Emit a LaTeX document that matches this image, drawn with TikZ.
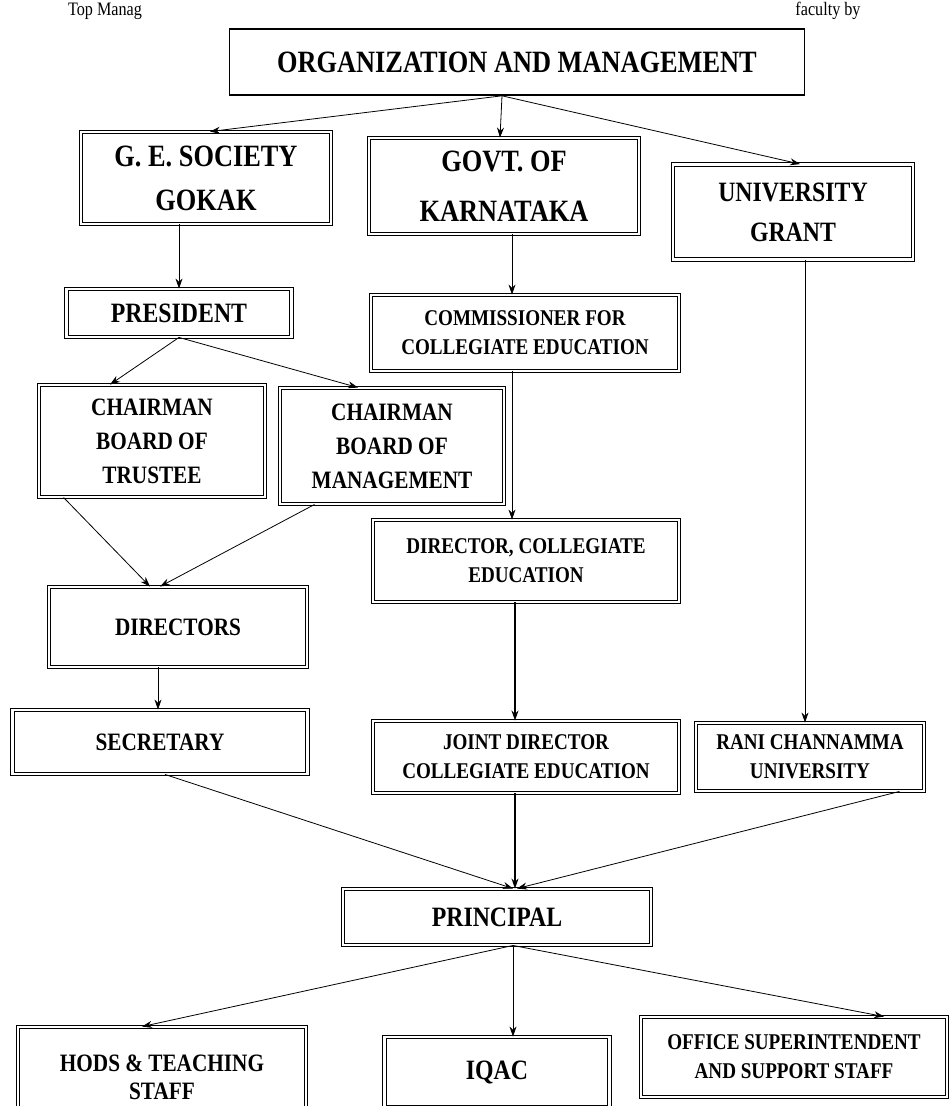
\documentclass[tikz,border=0pt]{standalone}
\usepackage{fontspec}
\setmainfont{Liberation Serif}[FakeStretch=0.85]
\usepackage{tikz}
\usetikzlibrary{arrows.meta}

\begin{document}
\begin{tikzpicture}[x=1pt, y=-1pt,
    unit/.style={draw, double, double distance=2.4pt, line width=0.9pt,
        align=center, inner sep=2pt, font=\bfseries},
    fsA/.style={font=\fontsize{31}{44}\bfseries\selectfont},
    fsB/.style={font=\fontsize{28}{40}\bfseries\selectfont},
    fsC/.style={font=\fontsize{25}{34}\bfseries\selectfont},
    fsD/.style={font=\fontsize{22.5}{29}\bfseries\selectfont},
    link/.style={line width=0.8pt, -{Stealth[length=10pt, width=7pt]}}]
    \useasboundingbox (0,0) rectangle (951,1106);

    % bits of the scanned page above the chart
    \node[font=\fontsize{19}{21}\selectfont] (topl) at (105,11) {Top Manag};
    \node[font=\fontsize{19}{21}\selectfont] (topr) at (828,11) {faculty by};

    % head of the chart
    \node[draw, line width=1.6pt, minimum width=575, minimum height=66, fsA] (org) at (517,62) {ORGANIZATION AND MANAGEMENT};

    % the three bodies
    \node[unit, fsA, minimum width=250, minimum height=92] (ges) at (206,178) {G. E. SOCIETY\\GOKAK};
    \node[unit, fsA, minimum width=270, minimum height=96, font=\fontsize{31}{50}\bfseries\selectfont] (govt) at (504,186) {GOVT. OF\\KARNATAKA};
    \node[unit, fsB, minimum width=240, minimum height=95] (ugc) at (793,212) {UNIVERSITY\\GRANT};

    % society side
    \node[unit, fsB, minimum width=225, minimum height=48] (pres) at (179,313) {PRESIDENT};
    \node[unit, fsC, minimum width=226, minimum height=112] (cbt) at (152,441) {CHAIRMAN\\BOARD OF\\TRUSTEE};
    \node[unit, fsC, minimum width=224, minimum height=116] (cbm) at (392,446) {CHAIRMAN\\BOARD OF\\MANAGEMENT};
    \node[unit, fsC, minimum width=258, minimum height=80] (dirs) at (178,627) {DIRECTORS};
    \node[unit, fsC, minimum width=295, minimum height=64] (secy) at (160,742) {SECRETARY};

    % government side
    \node[unit, fsD, minimum width=308, minimum height=76] (comm) at (525,333) {COMMISSIONER FOR\\COLLEGIATE EDUCATION};
    \node[unit, fsD, minimum width=306, minimum height=82] (dirce) at (526,561) {DIRECTOR, COLLEGIATE\\EDUCATION};
    \node[unit, fsD, minimum width=306, minimum height=72] (jdce) at (526,757) {JOINT DIRECTOR\\COLLEGIATE EDUCATION};

    % university side
    \node[unit, fsD, minimum width=228, minimum height=68] (rcu) at (810,757) {RANI CHANNAMMA\\UNIVERSITY};

    % college level
    \node[unit, fsB, minimum width=308, minimum height=56] (prin) at (497,917) {PRINCIPAL};
    \node[unit, fsC, minimum width=288, minimum height=100, font=\fontsize{25}{28}\bfseries\selectfont] (hods) at (162,1077) {HODS \& TEACHING\\STAFF};
    \node[unit, fsB, minimum width=225, minimum height=70] (iqac) at (497,1072) {IQAC};
    \node[unit, fsD, minimum width=306, minimum height=80] (osup) at (794,1057) {OFFICE SUPERINTENDENT\\AND SUPPORT STAFF};

    % head to bodies
    \draw[link] ([xshift=-15pt]org.south) -- ([xshift=4pt]ges.north);
    \draw[link] ([xshift=-15pt]org.south) -- ([xshift=-4pt]govt.north);
    \draw[link] ([xshift=-15pt]org.south) -- ([xshift=7pt]ugc.north);

    % society chain
    \draw[link] (pres.north |- ges.south) -- (pres.north);
    \draw[link] (pres.south) -- ([xshift=-42pt]cbt.north);
    \draw[link] (pres.south) -- ([xshift=-34pt]cbm.north);
    \draw[link] ([xshift=25pt]cbt.south west) -- ([xshift=-28pt]dirs.north);
    \draw[link] ([xshift=35pt]cbm.south west) -- ([xshift=-18pt]dirs.north);
    \draw[link] ([xshift=-20pt]dirs.south) -- ([xshift=-20pt]dirs.south |- secy.north);

    % government chain
    \draw[link] ([xshift=8pt]govt.south) -- ([xshift=8pt]govt.south |- comm.north);
    \draw[link] ([xshift=-13pt]comm.south) -- ([xshift=-13pt]comm.south |- dirce.north);
    \draw[link, line width=1.5pt] ([xshift=-11pt]dirce.south) -- ([xshift=-11pt]dirce.south |- jdce.north);

    % university chain
    \draw[link] ([xshift=12pt]ugc.south) -- ([xshift=12pt]ugc.south |- rcu.north);

    % all three into the principal
    \draw[link] ([xshift=5pt]secy.south) -- ([xshift=16pt]prin.north);
    \draw[link, line width=1.2pt] ([xshift=-11pt]jdce.south) -- ([xshift=-11pt]jdce.south |- prin.north);
    \draw[link] ([xshift=-25pt]rcu.south east) -- ([xshift=20pt]prin.north);

    % principal to staff
    \draw[link] ([xshift=16pt]prin.south) -- ([xshift=-20pt]hods.north);
    \draw[link] ([xshift=16pt]prin.south) -- ([xshift=16pt]prin.south |- iqac.north);
    \draw[link] ([xshift=16pt]prin.south) -- ([xshift=90pt]osup.north);
\end{tikzpicture}
\end{document}
